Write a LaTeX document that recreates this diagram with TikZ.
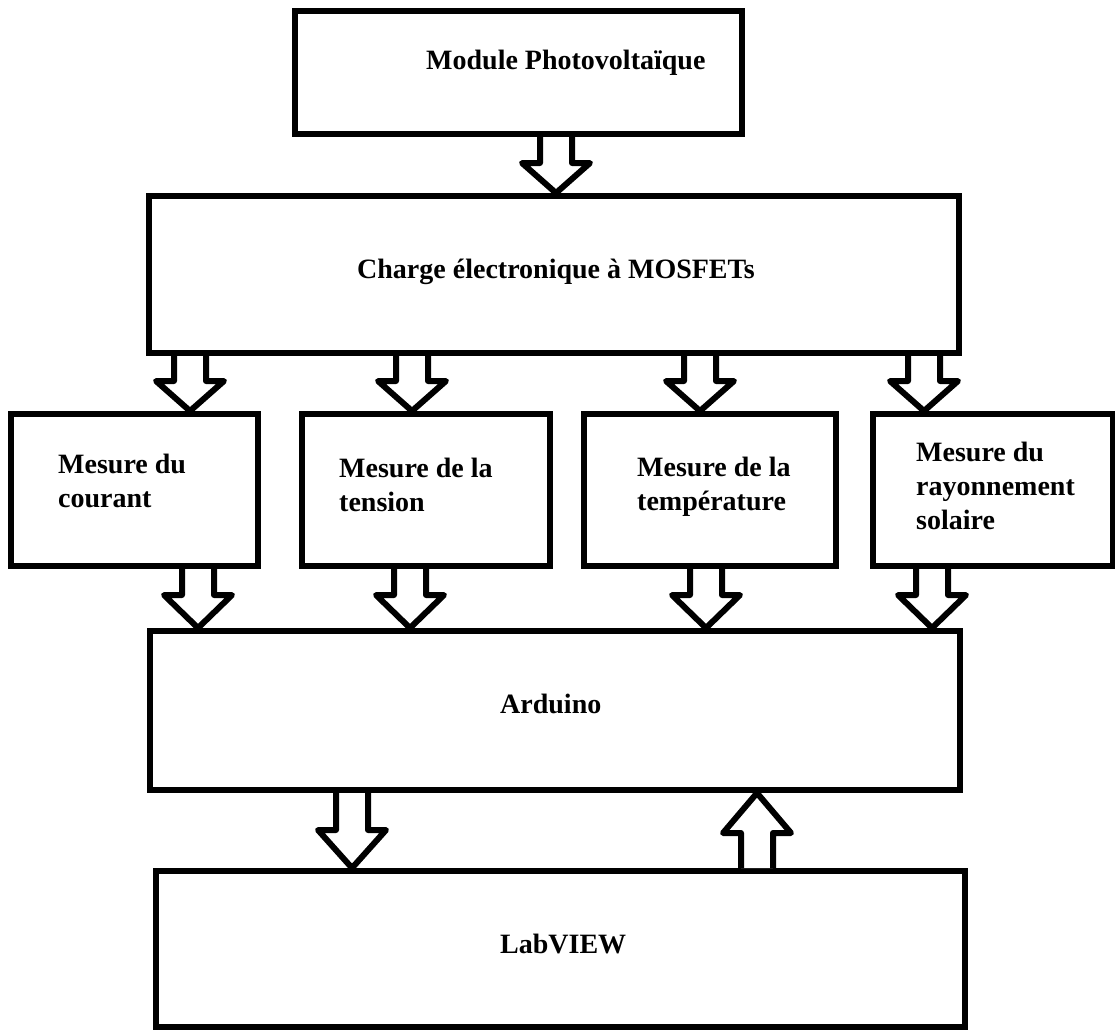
\documentclass[tikz,border=0pt]{standalone}
\usepackage{fontspec}
\setmainfont{Liberation Serif}
\usetikzlibrary{calc,positioning}

\tikzset{
  box/.style={draw, line width=6pt, minimum width=#1, inner sep=0pt},
  txt/.style={inner sep=0pt, font=\bfseries\fontsize{28}{34}\selectfont},
  blockarrow/.style={draw, line width=6pt, line join=round, fill=white},
}

% hollow block arrow, from #2 to #3, head length #1
\newcommand{\hollowarrow}[3][30]{%
  \coordinate (hb) at ($(#3)!#1pt!(#2)$);
  \draw[blockarrow] ($(#2)+(-16,0)$) -- ($(hb)+(-16,0)$) -- ($(hb)+(-34,0)$)
    -- (#3) -- ($(hb)+(34,0)$) -- ($(hb)+(16,0)$) -- ($(#2)+(16,0)$);
}

\begin{document}
\begin{tikzpicture}[x=1pt, y=-1pt]
\useasboundingbox (0,0) rectangle (1115,1030);

% boxes
\node[box=447pt, minimum height=123pt] (module) at (518.5,72.5) {};
\node[box=810pt, minimum height=157pt] (charge) at (554,274.5) {};
\node[box=247pt, minimum height=152pt] (courant) at (134.5,490) {};
\node[box=248pt, minimum height=152pt] (tension) at (426,490) {};
\node[box=252pt, minimum height=152pt] (temperature) at (710,490) {};
\node[box=240pt, minimum height=152pt] (rayonnement) at (993,490) {};
\node[box=810pt, minimum height=159pt] (arduino) at (555,710.5) {};
\node[box=809pt, minimum height=156pt] (labview) at (560.5,949) {};

% texts
\node[txt, anchor=base west] (module-t) at (426,70) {Module Photovoltaïque};
\node[txt, anchor=base west] (charge-t) at (357,278) {Charge électronique à MOSFETs};
\node[txt, anchor=west, align=left] (courant-t) at (58,481) {Mesure du\\courant};
\node[txt, anchor=west, align=left] (tension-t) at (339,485) {Mesure de la\\tension};
\node[txt, anchor=west, align=left] (temperature-t) at (637,487) {Mesure de la\\température};
\node[txt, anchor=west, align=left] (rayonnement-t) at (916,486) {Mesure du\\rayonnement\\solaire};
\node[txt, anchor=base west] (arduino-t) at (500,713) {Arduino};
\node[txt, anchor=base west] (labview-t) at (500,953) {LabVIEW};

% module -> charge
\coordinate (m1) at (556,0 |- module.south);
\coordinate (c0) at (556,0 |- charge.north);
\hollowarrow{m1}{c0}

% charge -> measures
\coordinate (c1) at (190,0 |- charge.south);
\coordinate (c2) at (412,0 |- charge.south);
\coordinate (c3) at (700,0 |- charge.south);
\coordinate (c4) at (924,0 |- charge.south);
\coordinate (s1) at (190,0 |- courant.north);
\coordinate (s2) at (412,0 |- tension.north);
\coordinate (s3) at (700,0 |- temperature.north);
\coordinate (s4) at (924,0 |- rayonnement.north);
\hollowarrow{c1}{s1}
\hollowarrow{c2}{s2}
\hollowarrow{c3}{s3}
\hollowarrow{c4}{s4}

% measures -> arduino
\coordinate (e1) at (198,0 |- courant.south);
\coordinate (e2) at (410,0 |- tension.south);
\coordinate (e3) at (706,0 |- temperature.south);
\coordinate (e4) at (932,0 |- rayonnement.south);
\coordinate (a1) at (198,0 |- arduino.north);
\coordinate (a2) at (410,0 |- arduino.north);
\coordinate (a3) at (706,0 |- arduino.north);
\coordinate (a4) at (932,0 |- arduino.north);
\hollowarrow[33]{e1}{a1}
\hollowarrow[33]{e2}{a2}
\hollowarrow[33]{e3}{a3}
\hollowarrow[33]{e4}{a4}

% arduino <-> labview
\coordinate (ad) at (352,0 |- arduino.south);
\coordinate (ld) at (352,0 |- labview.north);
\hollowarrow[38]{ad}{ld}
\coordinate (lu) at (757,0 |- labview.north);
\coordinate (au) at (757,0 |- arduino.south);
\hollowarrow[40]{lu}{au}

\end{tikzpicture}
\end{document}
